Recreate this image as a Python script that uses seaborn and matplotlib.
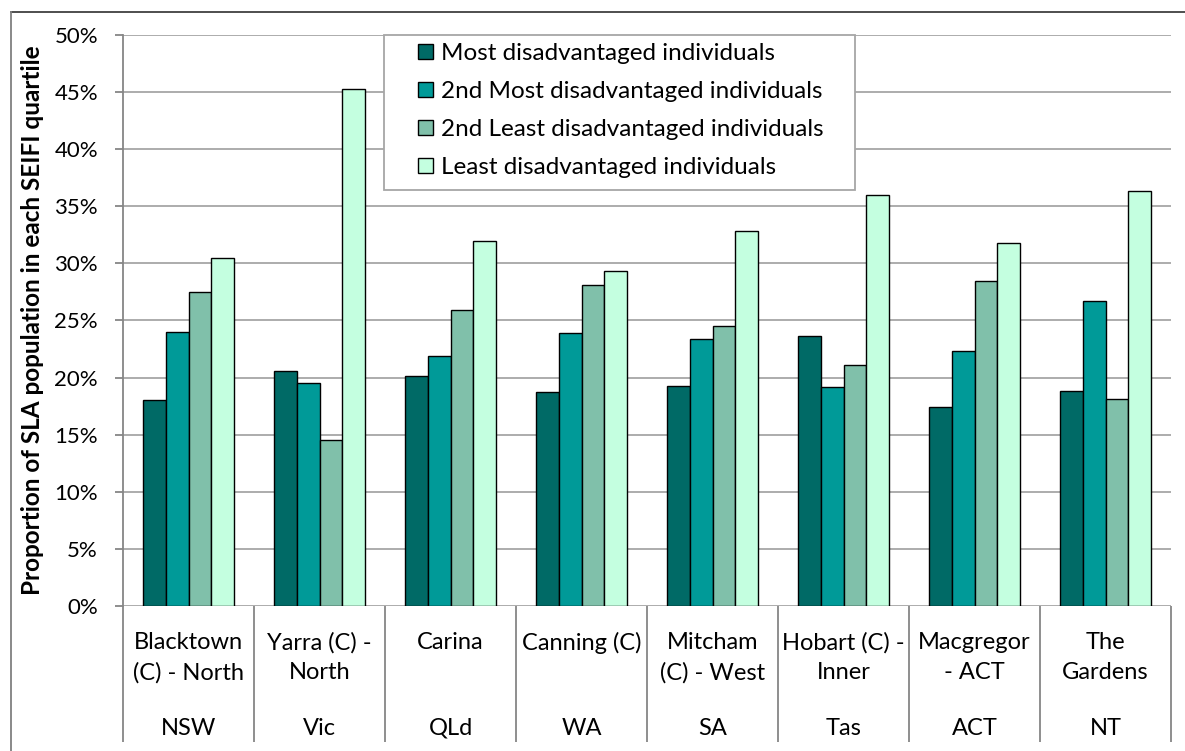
import numpy as np
import pandas as pd
import seaborn as sns
import matplotlib.pyplot as plt
from matplotlib.lines import Line2D
from matplotlib.patches import Rectangle
from matplotlib.ticker import PercentFormatter

regions = ["Blacktown\n(C) - North", "Yarra (C) -\nNorth", "Carina", "Canning (C)",
           "Mitcham\n(C) - West", "Hobart (C) -\nInner", "Macgregor\n- ACT", "The\nGardens"]
states = ["NSW", "Vic", "QLd", "WA", "SA", "Tas", "ACT", "NT"]
quartiles = ["Most disadvantaged individuals", "2nd Most disadvantaged individuals",
             "2nd Least disadvantaged individuals", "Least disadvantaged individuals"]

most = [18.0, 20.6, 20.1, 18.7, 19.3, 23.6, 17.4, 18.8]
second_most = [24.0, 19.5, 21.9, 23.9, 23.4, 19.2, 22.3, 26.7]
second_least = [27.5, 14.5, 25.9, 28.1, 24.5, 21.1, 28.5, 18.1]
least = [30.5, 45.3, 32.0, 29.3, 32.8, 36.0, 31.8, 36.3]

colors = ["#006A66", "#009A98", "#80C0AA", "#C4FFE0"]

df = pd.DataFrame({
    "region": regions * 4,
    "quartile": np.repeat(quartiles, len(regions)),
    "value": most + second_most + second_least + least,
})

plt.rcParams["font.family"] = ["Lato", "DejaVu Sans"]

W, H = 1185, 751
fig = plt.figure(figsize=(W / 100, H / 100), dpi=100)
ax = fig.add_axes([123 / W, 1 - 606 / H, (1171 - 123) / W, (606 - 35) / H])

sns.barplot(data=df, x="region", y="value", hue="quartile", palette=colors,
            saturation=1, width=0.7, edgecolor="black", linewidth=1, ax=ax, zorder=3)

ax.set_ylim(0, 50)
ax.set_xlim(-0.5, len(regions) - 0.5)
ax.set_yticks(np.arange(0, 51, 5))
ax.yaxis.set_major_formatter(PercentFormatter(decimals=0))
ax.grid(axis="y", color="#a6a6a6", linewidth=1.3, zorder=0)
ax.set_axisbelow(True)
for side in ["top", "right", "bottom"]:
    ax.spines[side].set_visible(False)
ax.spines["left"].set_color("#868686")
ax.spines["left"].set_linewidth(1.3)

ax.tick_params(axis="y", length=6, color="#868686", width=1.3, labelsize=16, pad=12)
ax.set_ylabel("Proportion of SLA population in each SEIFI quartile",
              fontsize=17.5, fontweight="bold")
ax.yaxis.set_label_coords((44 - 123) / 1048, 0.5)
ax.set_xlabel("")

# two-level category axis
ax.set_xticks(range(len(regions)))
ax.set_xticklabels(regions, fontsize=17, linespacing=1.5)
ax.tick_params(axis="x", which="major", length=0, pad=19)
ax.set_xticks(np.arange(-0.5, len(regions)), minor=True)
ax.tick_params(axis="x", which="minor", length=98, color="#868686", width=1.3)
for i, st in enumerate(states):
    ax.text(i, -0.214, st, transform=ax.get_xaxis_transform(), ha="center", va="center", fontsize=17)

# legend with a wide frame drawn separately
leg = ax.legend(loc="upper left", bbox_to_anchor=(418 / W, 1 - 43 / H),
                bbox_transform=fig.transFigure, borderaxespad=0, borderpad=0, fontsize=17.5,
                frameon=False, handlelength=0.62, handleheight=0.62, handletextpad=0.33,
                labelspacing=0.7)
leg.set_title(None)
leg.set_zorder(6)
ax.add_patch(Rectangle((384 / W, 1 - 190 / H), (855 - 384) / W, (190 - 35) / H,
                       transform=fig.transFigure, facecolor="white", edgecolor="#a6a6a6",
                       linewidth=1.3, zorder=5, clip_on=False))

# outer chart border (only top and left visible)
fig.add_artist(Line2D([11 / W, 1], [1 - 12 / H, 1 - 12 / H], color="#404040", linewidth=1.3))
fig.add_artist(Line2D([11 / W, 11 / W], [0, 1 - 12 / H], color="#808080", linewidth=1.3))

fig.savefig("out.png", dpi=100)
